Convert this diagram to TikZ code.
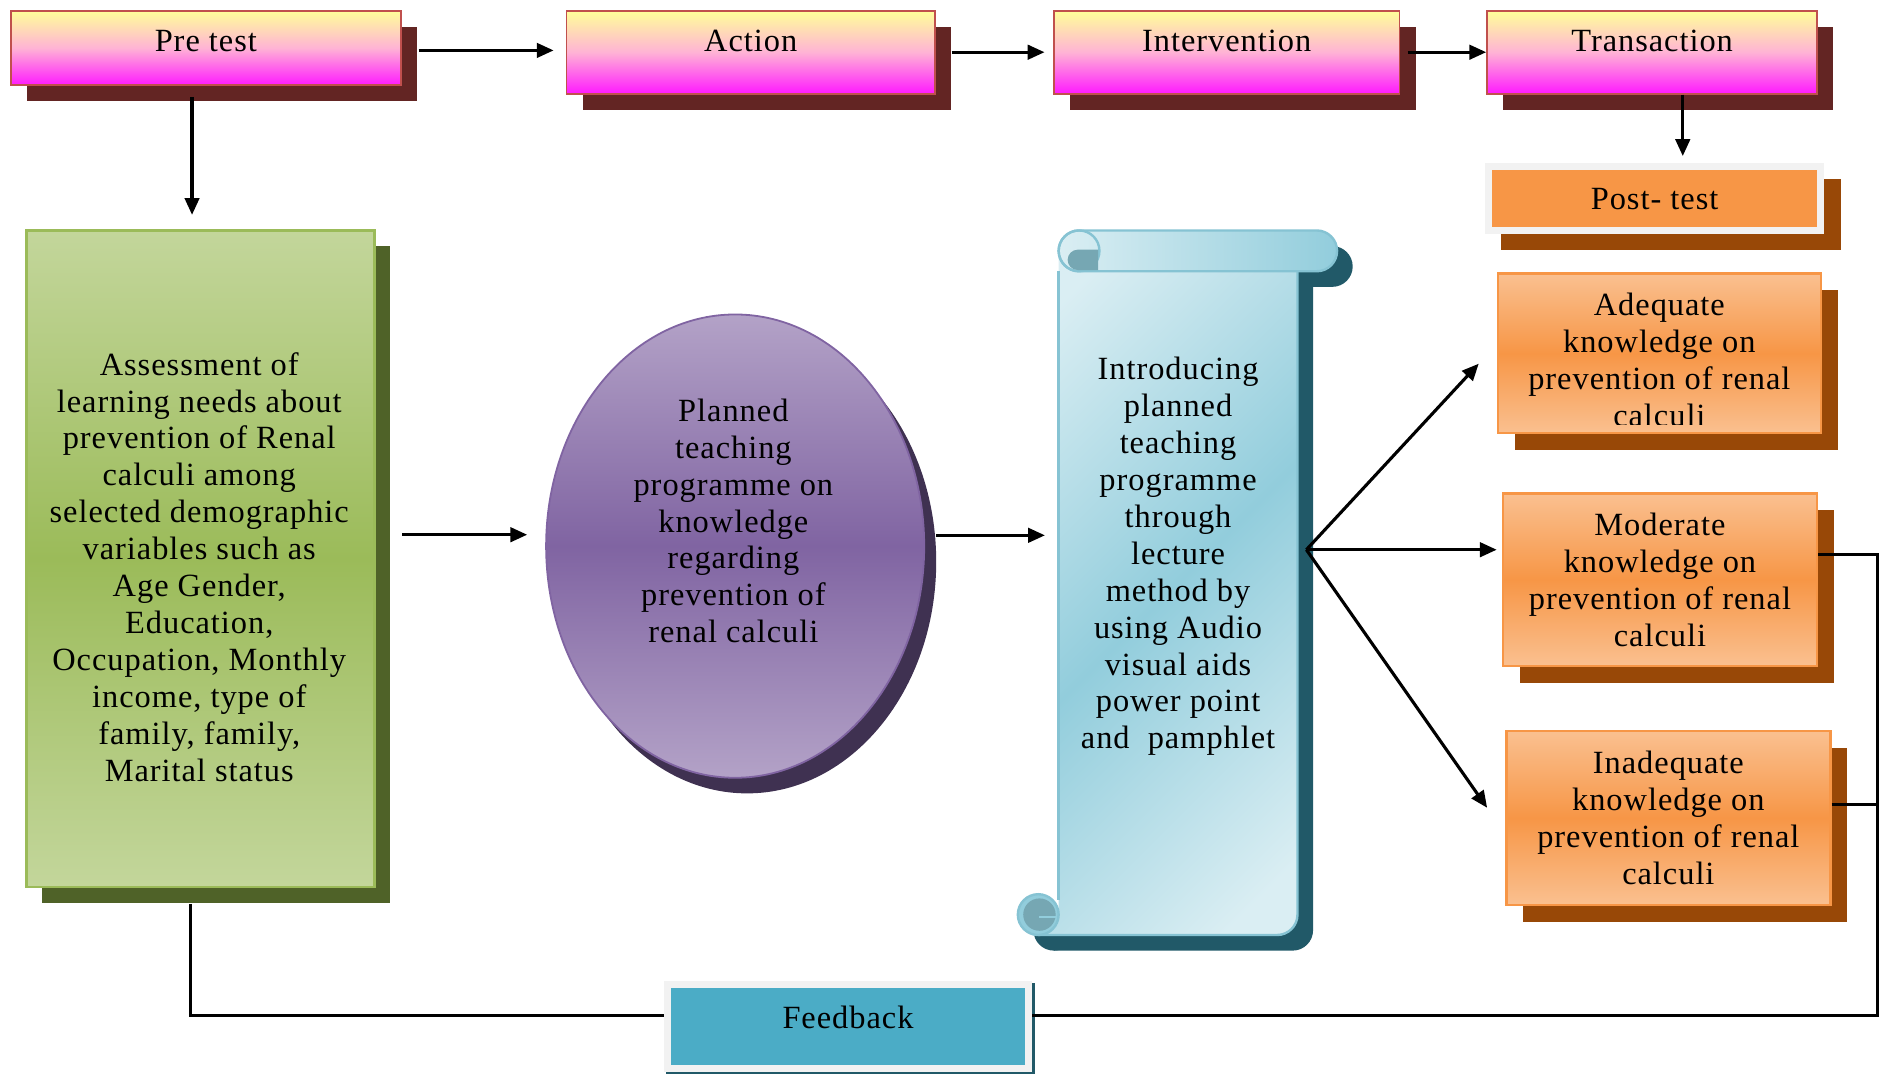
\documentclass[tikz,border=0pt]{standalone}
\usepackage{fontspec}
\setmainfont{Liberation Serif}[LetterSpace=3]
\usepackage{tikz}
\usetikzlibrary{shapes.geometric,shadows,arrows.meta}

\definecolor{pinkedge}{HTML}{C0504D}
\definecolor{pinkshadow}{HTML}{632523}
\definecolor{topyellow}{HTML}{FFFF99}
\definecolor{topmid}{HTML}{FFB3D5}
\definecolor{topmagenta}{HTML}{FF1AFF}
\definecolor{greenlight}{HTML}{C3D69B}
\definecolor{greenmid}{HTML}{9BBB59}
\definecolor{greenshadow}{HTML}{4F6228}
\definecolor{purplelight}{HTML}{B3A2C7}
\definecolor{purplemid}{HTML}{8064A2}
\definecolor{purpleshadow}{HTML}{3F3151}
\definecolor{orangelight}{HTML}{FAC090}
\definecolor{orangemid}{HTML}{F79646}
\definecolor{orangeshadow}{HTML}{984807}
\definecolor{scrolllight}{HTML}{DAEEF3}
\definecolor{scrolldark}{HTML}{92CDDC}
\definecolor{scrolledgec}{HTML}{86C3D3}
\definecolor{scrollcurl}{HTML}{76A7B3}
\definecolor{scrollshadow}{HTML}{215968}
\definecolor{fbblue}{HTML}{4BACC6}
\definecolor{framegray}{HTML}{F2F2F2}

\pgfdeclarehorizontalshading{scrollshade}{100bp}{color(0bp)=(scrolllight); color(20bp)=(scrolllight); color(50bp)=(scrolldark); color(80bp)=(scrolllight); color(100bp)=(scrolllight)}

\tikzset{
    stepbox/.style={rectangle,draw=pinkedge,line width=0.75pt,top color=topyellow,bottom color=topmagenta,middle color=topmid,inner ysep=0pt,text height=17pt,text depth=17.5pt,general shadow={fill=pinkshadow,shadow xshift=6.75pt,shadow yshift=-6.75pt}},
    needbox/.style={rectangle,draw=greenmid,line width=1pt,top color=greenlight,bottom color=greenlight,middle color=greenmid,minimum width=145pt,minimum height=273.5pt,general shadow={fill=greenshadow,shadow xshift=6.5pt,shadow yshift=-6.5pt}},
    planoval/.style={ellipse,draw=purplemid,line width=0.75pt,top color=purplelight,bottom color=purplelight,middle color=purplemid,minimum width=157.5pt,minimum height=193pt,inner sep=0pt,general shadow={fill=purpleshadow,shadow xshift=5pt,shadow yshift=-6.5pt}},
    levelbox/.style={rectangle,draw=orangemid,line width=1pt,top color=orangelight,bottom color=orangelight,middle color=orangemid,align=center,general shadow={fill=orangeshadow,shadow xshift=7pt,shadow yshift=-7pt}},
    framebox/.style={rectangle,draw=framegray,line width=3pt},
    txt/.style={align=center},
    arr/.style={line width=1.3pt,-{Triangle[length=7pt,width=6pt]}},
    fbline/.style={line width=1.2pt},
    scrolledge/.style={draw=scrolledgec,line width=1pt}
}

\begin{document}
\begin{tikzpicture}[x=0.5pt,y=-0.5pt,font=\fontsize{13.5pt}{15.4pt}\selectfont]
\useasboundingbox (0,0) rectangle (1568,894);

% top row
\node[stepbox,minimum width=162.5pt,text depth=14pt] (pretest) at (171.5,40) {Pre test};
\node[stepbox,minimum width=153.5pt] (action) at (625.5,43.5) {Action};
\node[stepbox,minimum width=144pt] (intervention) at (1022,43.5) {Intervention};
\node[stepbox,minimum width=137.5pt] (transaction) at (1376.5,43.5) {Transaction};

\node[framebox,fill=orangemid,minimum width=138.5pt,minimum height=26.5pt,general shadow={fill=orangeshadow,draw=orangeshadow,line width=3pt,shadow xshift=6.75pt,shadow yshift=-6.75pt}] (posttest) at (1378.5,165.5) {Post- test};

% assessment box
\node[needbox] (assess) at (167,465.5) {};
\node[txt] (assesstext) at (166,472.5) {Assessment of\\learning needs about\\prevention of Renal\\calculi among\\selected demographic\\variables such as\\Age Gender,\\Education,\\Occupation, Monthly\\income, type of\\family, family,\\Marital status};

% programme oval
\node[planoval] (oval) at (612.5,455) {};
\node[txt] (ovaltext) at (611,434) {Planned\\teaching\\programme on\\knowledge\\regarding\\prevention of\\renal calculi};

% scroll
\fill[scrollshadow] (895,222) -- (1094,222) -- (1094,775) arc[start angle=0,end angle=90,radius=17] -- (878,792) -- (878,775) -- (895,775) -- cycle;
\fill[scrollshadow] (878,775) circle[radius=17];
\fill[scrollshadow,rounded corners=8.5pt] (895,205) rectangle (1127,239);
\shade[shading=scrollshade,shading angle=-45] (882,209) -- (1081,209) -- (1081,762) arc[start angle=0,end angle=90,radius=17] -- (865,779) -- (865,762) -- (882,762) -- cycle;
\draw[scrolledge] (882,226) -- (882,750);
\draw[scrolledge] (865,779) -- (1064,779) arc[start angle=90,end angle=0,radius=17] -- (1081,226);
\shadedraw[left color=scrolllight,right color=scrolldark,scrolledge,rounded corners=8.5pt] (882,192) rectangle (1114,226);
\draw[scrolledge] (899,209) circle[radius=17];
\fill[scrollcurl] (915,208) -- (898,208) arc[start angle=-90,end angle=-270,radius=8.5] -- (915,225) -- cycle;
\filldraw[scrolledge,fill=scrolldark] (865,762) circle[radius=17];
\fill[scrollcurl] (866,762) circle[radius=13.5];
\draw[scrolldark,line width=1pt] (866,764) -- (881,764);
\node[txt,minimum width=99.5pt,inner sep=0pt] (intro) at (981.5,463.5) {Introducing\\planned\\teaching\\programme\\through\\lecture\\method by\\using Audio\\visual aids\\power point\\and \ pamphlet};

% outcome boxes
\node[levelbox,minimum width=134.5pt,minimum height=66.5pt] (adequate) at (1382.5,294.5) {};
\begin{scope}
\clip (adequate.north west) rectangle ([shift={(0,-8)}]adequate.south east);
\node[txt] (adequatetext) at (1382.5,299.5) {Adequate\\knowledge on\\prevention of renal\\calculi};
\end{scope}
\node[levelbox,minimum width=131pt,minimum height=72pt] (moderate) at (1383,483) {Moderate\\knowledge on\\prevention of renal\\calculi};
\node[levelbox,minimum width=135pt,minimum height=72.5pt] (inadequate) at (1390,681.5) {Inadequate\\knowledge on\\prevention of renal\\calculi};

\node[framebox,fill=fbblue,minimum width=150.5pt,inner ysep=0pt,text height=18.5pt,text depth=16.5pt,general shadow={fill=scrollshadow,draw=scrollshadow,line width=3pt,shadow xshift=1pt,shadow yshift=-1pt}] (feedback) at (706.5,855) {Feedback};

% arrows
\coordinate (s1) at ([shift={(0,2)}]pretest.east);
\draw[arr,shorten <=7pt,shorten >=5pt] (s1) -- (s1 -| action.west);
\draw[arr,shorten <=6.5pt,shorten >=3.5pt] (action.east) -- (action.east -| intervention.west);
\draw[arr,shorten <=3pt] (intervention.east) -- (intervention.east -| transaction.west);

\coordinate (t1) at ([shift={(25.5,0)}]transaction.south);
\draw[arr,shorten >=3pt] (t1) -- (t1 |- posttest.north);
\coordinate (p1) at ([shift={(-11.5,0)}]pretest.south);
\draw[arr,shorten <=4.5pt,shorten >=6pt] (p1) -- (p1 |- assess.north);

\coordinate (a1) at ([shift={(0,-20)}]assess.east);
\draw[arr,shorten <=11pt,shorten >=7.5pt] (a1) -- (a1 -| oval.west);
\coordinate (o1) at ([shift={(0,-9)}]oval.east);
\draw[arr,shorten <=4.5pt,shorten >=5.5pt] (o1) -- (o1 -| intro.west);

\coordinate (fan) at ([shift={(7,-5.5)}]intro.east);
\draw[arr] (fan) -- ([shift={(-15,8.5)}]adequate.west);
\draw[arr] (fan) -- ([shift={(-4,-25)}]moderate.west);
\draw[arr] (fan) -- ([shift={(-15,-8.5)}]inadequate.west);

% feedback loop
\coordinate (fbcorner) at (1564,846);
\draw[fbline] ([shift={(0,-21)}]moderate.east) -| (fbcorner) -- ([shift={(0,-9)}]feedback.east);
\coordinate (i1) at ([shift={(0,-11.5)}]inadequate.east);
\draw[fbline] (i1) -- (i1 -| fbcorner);
\draw[fbline] ([shift={(-8,13)}]assess.south) |- ([shift={(0,-9)}]feedback.west);
\end{tikzpicture}
\end{document}
